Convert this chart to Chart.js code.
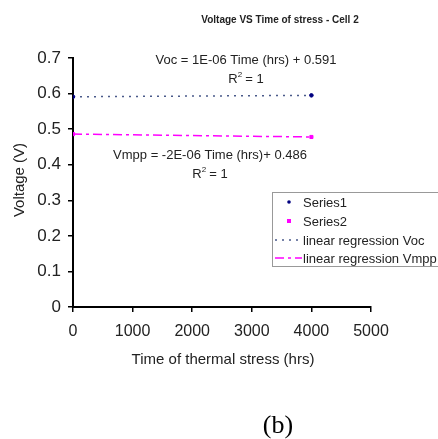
<!DOCTYPE html>
<html>
<head>
<meta charset="utf-8">
<script src="https://cdn.jsdelivr.net/npm/chart.js@4"></script>
<style>
  html, body { margin: 0; padding: 0; background: #fff; }
  canvas { display: block; }
</style>
</head>
<body>
<canvas id="grafik" width="438" height="439"></canvas>
<script>
// data
const timeHrs = [0, 4000];
const vocValues = [0.591, 0.595];
const vmppValues = [0.486, 0.478];
const fitTimes = [0, 4000];
const vocFit = [0.591, 0.595];
const vmppFit = [0.486, 0.478];
const xTicks = [0, 1000, 2000, 3000, 4000, 5000];
const yTicks = [0, 0.1, 0.2, 0.3, 0.4, 0.5, 0.6, 0.7];
const seriesNames = ["Series1", "Series2", "linear regression Voc", "linear regression Vmpp"];

const sans = "Arial, 'Liberation Sans', sans-serif";

function pts(xs, ys) {
  return xs.map((x, i) => ({ x: x, y: ys[i] }));
}

// titles, equations and the boxed legend are drawn by hand
const extras = {
  id: "extras",
  afterDraw(chart) {
    const c = chart.ctx;
    c.save();
    c.fillStyle = "#222";
    c.textAlign = "center";
    c.textBaseline = "middle";

    c.font = "bold 10px " + sans;
    c.fillText("Voltage VS Time of stress - Cell 2", 280, 20);

    c.font = "13px " + sans;
    c.fillText("Voc = 1E-06 Time (hrs) + 0.591", 246, 60);
    c.fillText("Vmpp = -2E-06 Time (hrs)+ 0.486", 210, 155);
    drawR2(c, 246, 79);
    drawR2(c, 210, 174);

    c.font = "15px " + sans;
    c.fillText("Time of thermal stress (hrs)", 223, 360);
    c.save();
    c.translate(20, 180);
    c.rotate(-Math.PI / 2);
    c.fillText("Voltage (V)", 0, 0);
    c.restore();

    c.font = "26px 'Liberation Serif', 'Times New Roman', serif";
    c.fillStyle = "#000";
    c.fillText("(b)", 278, 426);

    // legend
    const ds = chart.data.datasets;
    c.strokeStyle = "#999";
    c.lineWidth = 1;
    c.strokeRect(272.5, 192.5, 170, 74);
    const rows = [202, 221, 240, 258];
    c.font = "13px " + sans;
    c.textAlign = "left";
    rows.forEach((y, i) => {
      const d = ds[i];
      if (i < 2) {
        c.fillStyle = d.backgroundColor;
        if (d.pointStyle === "rect") c.fillRect(287, y - 2, 4, 4);
        else { c.beginPath(); c.arc(289, y, 1.8, 0, Math.PI * 2); c.fill(); }
      } else {
        c.strokeStyle = d.borderColor;
        c.lineWidth = d.borderWidth;
        c.setLineDash(d.borderDash);
        c.beginPath();
        c.moveTo(275, y);
        c.lineTo(302, y);
        c.stroke();
        c.setLineDash([]);
      }
      c.fillStyle = "#222";
      c.fillText(d.label, 303, y + 1);
    });
    c.restore();
  }
};

function drawR2(c, cx, y) {
  const w = c.measureText("R = 1").width + 4;
  const x0 = cx - w / 2;
  c.save();
  c.textAlign = "left";
  c.fillText("R", x0, y);
  const rw = c.measureText("R").width;
  c.font = "8px " + sans;
  c.fillText("2", x0 + rw, y - 4);
  c.font = "13px " + sans;
  c.fillText(" = 1", x0 + rw + 4, y);
  c.restore();
}

new Chart(document.getElementById("grafik").getContext("2d"), {
  type: "scatter",
  data: {
    datasets: [
      {
        label: seriesNames[0],
        data: pts(timeHrs, vocValues),
        backgroundColor: "#000080",
        borderColor: "#000080",
        pointRadius: 1.8,
        pointStyle: "circle"
      },
      {
        label: seriesNames[1],
        data: pts(timeHrs, vmppValues),
        backgroundColor: "#ff00ff",
        borderColor: "#ff00ff",
        pointRadius: 2.2,
        pointStyle: "rect"
      },
      {
        label: seriesNames[2],
        data: pts(fitTimes, vocFit),
        showLine: true,
        pointRadius: 0,
        borderColor: "#4a5a8a",
        borderWidth: 1.5,
        borderDash: [2, 5]
      },
      {
        label: seriesNames[3],
        data: pts(fitTimes, vmppFit),
        showLine: true,
        pointRadius: 0,
        borderColor: "#ff00ff",
        borderWidth: 1.5,
        borderDash: [9, 4, 3, 4]
      }
    ]
  },
  options: {
    responsive: false,
    animation: false,
    events: [],
    layout: { padding: { top: 58, right: 67, left: 0, bottom: 0 } },
    plugins: { legend: { display: false }, title: { display: false }, tooltip: { enabled: false } },
    scales: {
      x: {
        type: "linear",
        min: 0,
        max: 5000,
        afterBuildTicks: s => { s.ticks = xTicks.map(v => ({ value: v })); },
        afterFit: s => { s.height = 439 - 307; },
        grid: { drawOnChartArea: false, drawTicks: true, tickLength: 5, color: "#000", lineWidth: 1.5 },
        border: { color: "#000", width: 2 },
        ticks: { color: "#222", font: { family: sans, size: 16 }, padding: 10, maxRotation: 0, callback: v => String(v) }
      },
      y: {
        min: 0,
        max: 0.7,
        afterBuildTicks: s => { s.ticks = yTicks.map(v => ({ value: v })); },
        afterFit: s => { s.width = 73; },
        grid: { drawOnChartArea: false, drawTicks: true, tickLength: 5, color: "#000", lineWidth: 1.5 },
        border: { color: "#000", width: 2 },
        ticks: {
          color: "#222",
          font: { family: sans, size: 17 },
          padding: 7,
          callback: v => v === 0 ? "0" : v.toFixed(1)
        }
      }
    }
  },
  plugins: [extras]
});
</script>
</body>
</html>
